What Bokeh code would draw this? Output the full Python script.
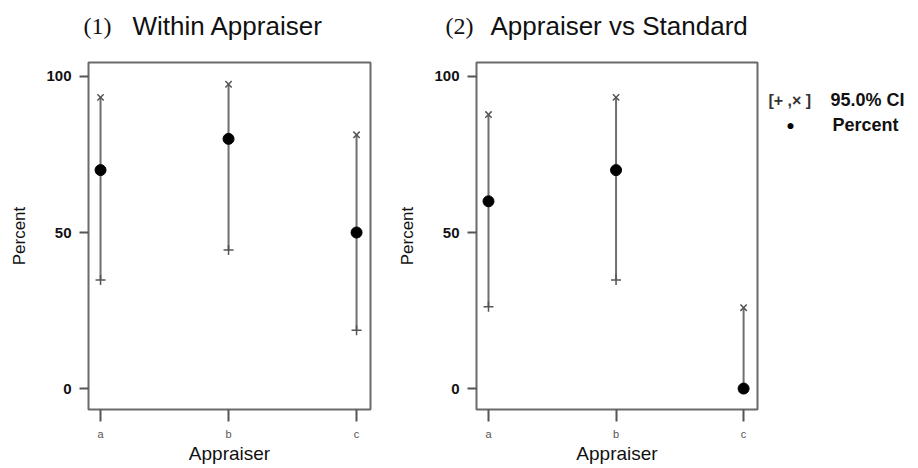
from bokeh.plotting import figure
from bokeh.layouts import row, column
from bokeh.models import Range1d, FixedTicker, Label, ColumnDataSource
from bokeh.embed import file_html
from bokeh.resources import INLINE

# ---- data ----
appraisers = ["a", "b", "c"]
within_percent = [70, 80, 50]
within_lower = [34.8, 44.4, 18.7]
within_upper = [93.3, 97.5, 81.3]
standard_percent = [60, 70, 0]
standard_lower = [26.2, 34.8, 0]
standard_upper = [87.8, 93.3, 25.9]
y_ticks = [0, 50, 100]
titles = [("(1)", "Within Appraiser"), ("(2)", "Appraiser vs Standard")]
legend_ci = "[+ ,\u00d7 ]"
legend_ci_text = "95.0% CI"
legend_pct_text = "Percent"

SANS = "Liberation Sans"
SERIF = "Liberation Serif"
FRAME_COL = "#6a6a6a"
BAR_COL = "#6f6f6f"

xpos = [i + 1 for i in range(len(appraisers))]

HEADER_H = 50
PANEL_H = 416


def blank_fig(width, height):
    f = figure(width=width, height=height, output_backend="svg", toolbar_location=None,
               x_range=Range1d(0, width), y_range=Range1d(height, 0),
               min_border_left=0, min_border_right=0, min_border_top=0, min_border_bottom=0)
    f.axis.visible = False
    f.grid.visible = False
    f.outline_line_color = None
    return f


def make_panel(pct, lower, upper, width, left, right):
    p = figure(width=width, height=PANEL_H, output_backend="svg", toolbar_location=None,
               x_range=Range1d(0.906, 3.109), y_range=Range1d(-6.71, 104.47),
               min_border_left=left, min_border_right=right,
               min_border_top=12, min_border_bottom=50)
    p.grid.visible = False
    p.outline_line_color = FRAME_COL
    p.outline_line_width = 2

    src = ColumnDataSource(dict(x=xpos, pct=pct, lo=lower, hi=upper))
    p.segment(x0="x", y0="lo", x1="x", y1="hi", source=src,
              line_color=BAR_COL, line_width=2)
    p.scatter(x="x", y="hi", source=src, marker="x", size=9,
              line_color="#555555", line_width=1.5)
    p.scatter(x="x", y="lo", source=src, marker="cross", size=10,
              line_color="#555555", line_width=1.5)
    p.scatter(x="x", y="pct", source=src, marker="circle", size=11,
              fill_color="black", line_color="black")

    xa = p.xaxis[0]
    xa.ticker = FixedTicker(ticks=xpos)
    xa.major_label_overrides = {x: a for x, a in zip(xpos, appraisers)}
    xa.minor_tick_line_color = None
    xa.axis_line_color = None
    xa.major_tick_in = 0
    xa.major_tick_out = 12
    xa.major_tick_line_color = "#555555"
    xa.major_tick_line_width = 2
    xa.major_label_text_font = SANS
    xa.major_label_text_font_size = "11px"
    xa.major_label_text_color = "#555555"
    xa.major_label_standoff = 6
    xa.axis_label = "Appraiser"
    xa.axis_label_text_font = SANS
    xa.axis_label_text_font_style = "normal"
    xa.axis_label_text_font_size = "19px"
    xa.axis_label_text_color = "#111111"
    xa.axis_label_standoff = 0

    ya = p.yaxis[0]
    ya.ticker = FixedTicker(ticks=y_ticks)
    ya.minor_tick_line_color = None
    ya.axis_line_color = None
    ya.major_tick_in = 0
    ya.major_tick_out = 9
    ya.major_tick_line_color = "#555555"
    ya.major_tick_line_width = 2
    ya.major_label_text_font = SANS
    ya.major_label_text_font_style = "bold"
    ya.major_label_text_font_size = "15px"
    ya.major_label_text_color = "#111111"
    ya.major_label_standoff = 8
    ya.axis_label = "Percent"
    ya.axis_label_text_font = SANS
    ya.axis_label_text_font_style = "normal"
    ya.axis_label_text_font_size = "17px"
    ya.axis_label_text_color = "#111111"
    ya.axis_label_standoff = 14
    return p


p1 = make_panel(within_percent, within_lower, within_upper, 390, 88, 20)
p2 = make_panel(standard_percent, standard_lower, standard_upper, 369, 86, 2)

# header with the two panel titles (serif number + sans text)
header = blank_fig(916, HEADER_H)
for (num, txt), xn, xt in zip(titles, [83, 445], [132, 490]):
    header.add_layout(Label(x=xn, y=25, text=num, text_font=SERIF, text_font_size="24px",
                            text_baseline="middle", text_color="#111111"))
    header.add_layout(Label(x=xt, y=25, text=txt, text_font=SANS, text_font_size="26px",
                            text_baseline="middle", text_color="#111111"))

# legend panel to the right of panel 2
leg = blank_fig(916 - 390 - 369, PANEL_H)
leg.add_layout(Label(x=9, y=45, text=legend_ci, text_font=SANS, text_font_style="bold",
                     text_font_size="16px", text_baseline="middle", text_color="#333333"))
leg.add_layout(Label(x=71, y=45, text=legend_ci_text, text_font=SANS, text_font_style="bold",
                     text_font_size="18px", text_baseline="middle", text_color="#111111"))
leg.add_layout(Label(x=31, y=75, text="\u25cf", text_font=SANS, text_align="center",
                     text_font_size="14px", text_baseline="middle", text_color="black"))
leg.add_layout(Label(x=73, y=75, text=legend_pct_text, text_font=SANS, text_font_style="bold",
                     text_font_size="18px", text_baseline="middle", text_color="#111111"))

layout = column(header, row(p1, p2, leg))
open("out.html", "w").write(file_html(layout, INLINE))
